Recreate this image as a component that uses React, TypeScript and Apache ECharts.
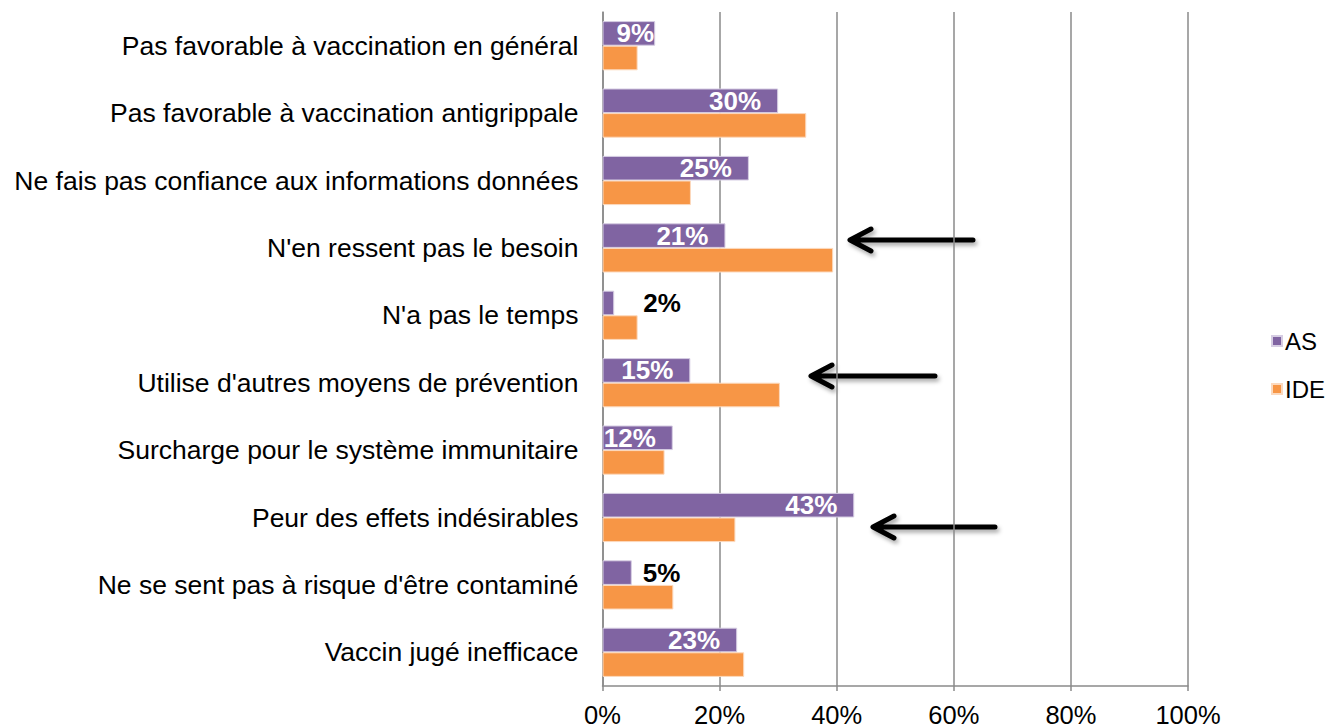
import React, { useEffect, useRef } from "react";
import * as echarts from "echarts";

const categories = [
  "Pas favorable à vaccination en général",
  "Pas favorable à vaccination antigrippale",
  "Ne fais pas confiance aux informations données",
  "N'en ressent pas le besoin",
  "N'a pas le temps",
  "Utilise d'autres moyens de prévention",
  "Surcharge pour le système immunitaire",
  "Peur des effets indésirables",
  "Ne se sent pas à risque d'être contaminé",
  "Vaccin jugé inefficace",
];
const asValues = [9, 30, 25, 21, 2, 15, 12, 43, 5, 23];
const ideValues = [6, 34.8, 15.1, 39.4, 6, 30.3, 10.6, 22.7, 12.1, 24.2];
const xTicks = [0, 20, 40, 60, 80, 100];

const FONT = "'Liberation Sans', Arial, sans-serif";

function arrow(tip: number, end: number, y: number) {
  return {
    type: "polyline",
    shape: {
      points: [
        [tip + 21, y - 11],
        [tip, y],
        [tip + 21, y + 11],
        [tip, y],
        [end, y],
      ],
    },
    style: {
      stroke: "#000",
      lineWidth: 5,
      lineCap: "round",
      lineJoin: "round",
      fill: "none",
      shadowBlur: 4,
      shadowOffsetX: 2,
      shadowOffsetY: 3,
      shadowColor: "rgba(0,0,0,0.35)",
    },
  };
}

export default function App() {
  const ref = useRef<HTMLDivElement>(null);
  useEffect(() => {
    if (!ref.current) return;
    const chart = echarts.init(ref.current, undefined, { renderer: "svg" });
    const asData = asValues.map((v) => {
      if (v === 2) {
        return { value: v, label: { position: "right", distance: 29, color: "#000" } };
      }
      if (v === 5) {
        return { value: v, label: { position: "right", distance: 11, color: "#000" } };
      }
      if (v === 9) {
        return { value: v, label: { distance: 1 } };
      }
      return { value: v };
    });
    chart.setOption({
      animation: false,
      textStyle: { fontFamily: FONT },
      grid: { left: 602.5, right: 142, top: 12, bottom: 42, containLabel: false },
      legend: {
        orient: "vertical",
        left: 1266,
        top: 324,
        itemWidth: 10,
        itemHeight: 10,
        itemGap: 24,
        icon: "rect",
        textStyle: { fontSize: 24, color: "#000", fontFamily: FONT, padding: [0, 0, 0, -2] },
        data: ["AS", "IDE"],
      },
      xAxis: {
        type: "value",
        min: 0,
        max: 100,
        interval: 20,
        axisLine: { show: true, lineStyle: { color: "#8a8a8a", width: 1.5 } },
        axisTick: { show: true, length: 5, lineStyle: { color: "#8a8a8a", width: 1.5 } },
        splitLine: { show: true, lineStyle: { color: "#8a8a8a", width: 1.5 } },
        axisLabel: {
          fontSize: 25.5,
          color: "#000",
          margin: 16,
          fontFamily: FONT,
          formatter: (v: number) => (xTicks.includes(v) ? v + "%" : ""),
        },
      },
      yAxis: {
        type: "category",
        inverse: true,
        data: categories,
        axisLine: { show: true, lineStyle: { color: "#8a8a8a", width: 1.5 } },
        axisTick: { show: false },
        axisLabel: { fontSize: 26.5, color: "#000", margin: 24, fontFamily: FONT },
      },
      series: [
        {
          name: "AS",
          type: "bar",
          data: asData,
          barGap: "0%",
          barCategoryGap: "27%",
          itemStyle: { color: "#8064A2", borderColor: "#d6cde3", borderWidth: 1 },
          label: {
            show: true,
            position: "insideRight",
            distance: 17,
            color: "#fff",
            fontWeight: "bold",
            fontSize: 26,
            fontFamily: FONT,
            formatter: (p: any) => Math.round(p.value) + "%",
          },
        },
        {
          name: "IDE",
          type: "bar",
          data: ideValues,
          barGap: "0%",
          barCategoryGap: "27%",
          itemStyle: { color: "#F79646", borderColor: "#fcd9bd", borderWidth: 1 },
        },
      ],
      graphic: [arrow(850, 973, 240), arrow(811, 935, 376), arrow(873, 995, 527)],
    });
    return () => chart.dispose();
  }, []);
  return (
    <div
      ref={ref}
      style={{ position: "fixed", left: 0, top: 0, width: 1330, height: 728, background: "#fff" }}
    />
  );
}
